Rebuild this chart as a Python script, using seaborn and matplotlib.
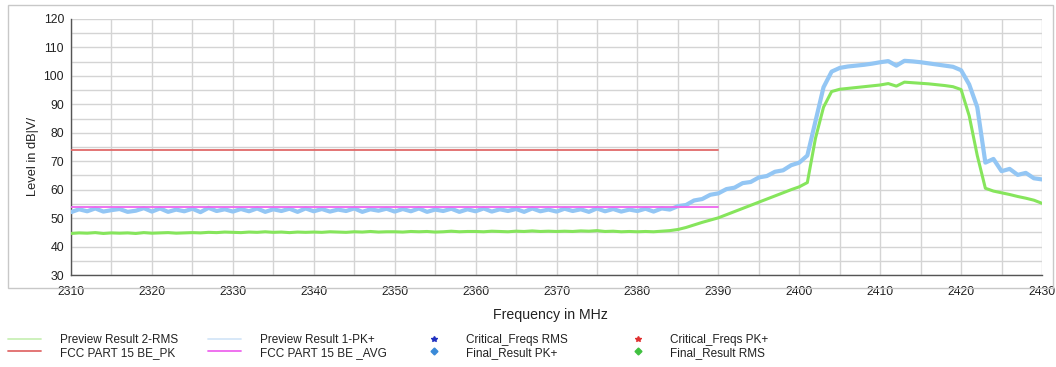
import numpy as np
import pandas as pd
import matplotlib
matplotlib.use("Agg")
import matplotlib.pyplot as plt
from matplotlib.lines import Line2D
from matplotlib.patches import Rectangle
import seaborn as sns

# ---------------- data ----------------
freq_mhz = list(range(2310, 2431))

rms_level = [
    44.6, 44.8, 44.7, 44.9, 44.6, 44.8, 44.7, 44.8, 44.6, 44.9,
    44.7, 44.8, 44.9, 44.7, 44.8, 44.9, 44.8, 45.0, 44.9, 45.1,
    45.0, 44.9, 45.1, 45.0, 45.2, 45.0, 45.1, 44.9, 45.1, 45.0,
    45.1, 45.0, 45.2, 45.1, 45.0, 45.2, 45.1, 45.3, 45.1, 45.2,
    45.2, 45.1, 45.3, 45.2, 45.3, 45.1, 45.2, 45.4, 45.2, 45.3,
    45.3, 45.2, 45.4, 45.3, 45.2, 45.4, 45.3, 45.5, 45.3, 45.4,
    45.3, 45.4, 45.3, 45.5, 45.4, 45.6, 45.3, 45.4, 45.2, 45.3,
    45.2, 45.3, 45.2, 45.4, 45.6, 46.0, 46.7, 47.6, 48.5, 49.3,
    50.1, 51.2, 52.3, 53.4, 54.5, 55.6, 56.7, 57.8, 58.9, 60.0,
    61.0, 62.5, 78.0, 89.0, 94.5, 95.3, 95.6, 95.9, 96.2, 96.5,
    96.8, 97.3, 96.4, 97.8, 97.6, 97.4, 97.2, 96.9, 96.6, 96.2,
    95.2, 86.0, 72.0, 60.5, 59.5, 58.9, 58.3, 57.6, 57.0, 56.3,
    55.2,
]

pk_level = [
    52.1, 53.1, 52.4, 53.4, 52.3, 52.8, 53.2, 52.2, 52.6, 53.5,
    52.3, 53.4, 52.2, 53.0, 52.4, 53.3, 52.1, 53.6, 52.5, 53.1,
    52.3, 53.2, 52.4, 53.4, 52.2, 53.1, 52.5, 53.3, 52.2, 53.4,
    52.4, 53.2, 52.3, 53.0, 52.5, 53.4, 52.2, 53.1, 52.6, 53.3,
    52.3, 53.2, 52.4, 53.4, 52.2, 53.0, 52.5, 53.3, 52.2, 53.1,
    52.4, 53.4, 52.3, 53.1, 52.5, 53.2, 52.2, 53.4, 52.4, 53.0,
    52.3, 53.3, 52.5, 53.1, 52.2, 53.4, 52.4, 53.2, 52.3, 53.0,
    52.5, 53.3, 52.3, 53.4, 53.0, 54.2, 54.6, 56.2, 56.7, 58.2,
    58.7, 60.2, 60.7, 62.3, 62.7, 64.3, 64.8, 66.3, 66.8, 68.6,
    69.5, 72.0, 84.0, 96.0, 101.5, 102.8, 103.3, 103.6, 103.9, 104.3,
    104.8, 105.2, 103.6, 105.3, 105.1, 104.8, 104.4, 104.0, 103.6, 103.2,
    102.0, 97.0, 89.0, 69.5, 70.8, 66.5, 67.3, 65.2, 65.9, 64.0,
    63.6,
]

limit_freq = [2310, 2390]
limit_pk = [74, 74]
limit_avg = [54, 54]

x_ticks = [2310, 2320, 2330, 2340, 2350, 2360, 2370, 2380, 2390, 2400, 2410, 2420, 2430]
y_ticks = [30, 40, 50, 60, 70, 80, 90, 100, 110, 120]

# ---------------- style ----------------
sns.set_theme(style="white")
plt.rcParams["font.family"] = ["Liberation Sans", "DejaVu Sans"]

W, H = 1056, 367
fig = plt.figure(figsize=(W / 100, H / 100), dpi=100)
ax = fig.add_axes([71 / W, 1 - 275 / H, (1042 - 71) / W, (275 - 19) / H])

c_rms = "#86e55c"
c_pk = "#93c6f4"
c_lpk = "#e06a6a"
c_lavg = "#ee66ee"

df_pk = pd.DataFrame({"f": freq_mhz, "v": pk_level})
df_rms = pd.DataFrame({"f": freq_mhz, "v": rms_level})
df_lpk = pd.DataFrame({"f": limit_freq, "v": limit_pk})
df_lavg = pd.DataFrame({"f": limit_freq, "v": limit_avg})

sns.lineplot(data=df_pk, x="f", y="v", ax=ax, color=c_pk, lw=3.0, zorder=3)
sns.lineplot(data=df_lavg, x="f", y="v", ax=ax, color=c_lavg, lw=1.3, zorder=4)
sns.lineplot(data=df_rms, x="f", y="v", ax=ax, color=c_rms, lw=2.2, zorder=3)
sns.lineplot(data=df_lpk, x="f", y="v", ax=ax, color=c_lpk, lw=1.3, zorder=4)

ax.set_xlim(2310, 2430)
ax.set_ylim(30, 120)
ax.set_xticks(x_ticks)
ax.set_yticks(y_ticks)
ax.set_xticks(np.arange(2315, 2430, 10), minor=True)
ax.set_yticks(np.arange(35, 120, 10), minor=True)
ax.grid(True, which="both", color="#d4d4d4", lw=1.0, zorder=0)
ax.set_axisbelow(True)

for s in ["top", "right"]:
    ax.spines[s].set_visible(False)
for s in ["left", "bottom"]:
    ax.spines[s].set_color("#555555")
    ax.spines[s].set_linewidth(1.0)

ax.tick_params(axis="both", which="both", direction="out", colors="#555555",
               labelcolor="#222222", labelsize=8.8, length=3, width=1, pad=1)
ax.tick_params(axis="y", which="major", length=4)
ax.tick_params(axis="x", which="major", pad=5)
ax.set_xlabel("Frequency in MHz", fontsize=10.2, color="#222222")
ax.set_ylabel("Level in dB|V/", fontsize=9.3, color="#222222")
ax.xaxis.set_label_coords((550 - 71) / 971, (275 - 315) / 256)
ax.yaxis.set_label_coords((33 - 71) / 971, (275 - 156) / 256)
ax.xaxis.label.set_va("center")
ax.yaxis.label.set_va("center")

# outer frame
fig.patches.append(Rectangle((8 / W, 1 - 288 / H), (1053 - 8) / W, (288 - 5) / H,
                             transform=fig.transFigure, fill=False,
                             edgecolor="#c8c8c8", lw=1.0, zorder=0))

# legend, four columns placed individually
cols = [
    (8, [Line2D([], [], color="#c9f0b6", lw=1.3), Line2D([], [], color=c_lpk, lw=1.3)],
     ["Preview Result 2-RMS", "FCC PART 15 BE_PK"], 2.8),
    (208, [Line2D([], [], color="#d4e6f8", lw=1.3), Line2D([], [], color=c_lavg, lw=1.3)],
     ["Preview Result 1-PK+", "FCC PART 15 BE _AVG"], 2.8),
    (428, [Line2D([], [], color="#2030c0", marker="*", ls="none", ms=4),
           Line2D([], [], color="#3a8ad8", marker="D", ls="none", ms=3.5)],
     ["Critical_Freqs RMS", "Final_Result PK+"], 1.0),
    (632, [Line2D([], [], color="#e03030", marker="*", ls="none", ms=4),
           Line2D([], [], color="#40c040", marker="D", ls="none", ms=3.5)],
     ["Critical_Freqs PK+", "Final_Result RMS"], 1.0),
]
for x0, hs, ls_, hl in cols:
    fig.legend(hs, ls_, loc="upper left", bbox_to_anchor=(x0 / W, 1 - 334 / H),
               frameon=False, fontsize=8.5, handlelength=hl, handletextpad=1.6 if hl > 2 else 2.2,
               labelspacing=0.05, borderaxespad=0, borderpad=0, labelcolor="#222222")

fig.savefig("out.png", dpi=100)
